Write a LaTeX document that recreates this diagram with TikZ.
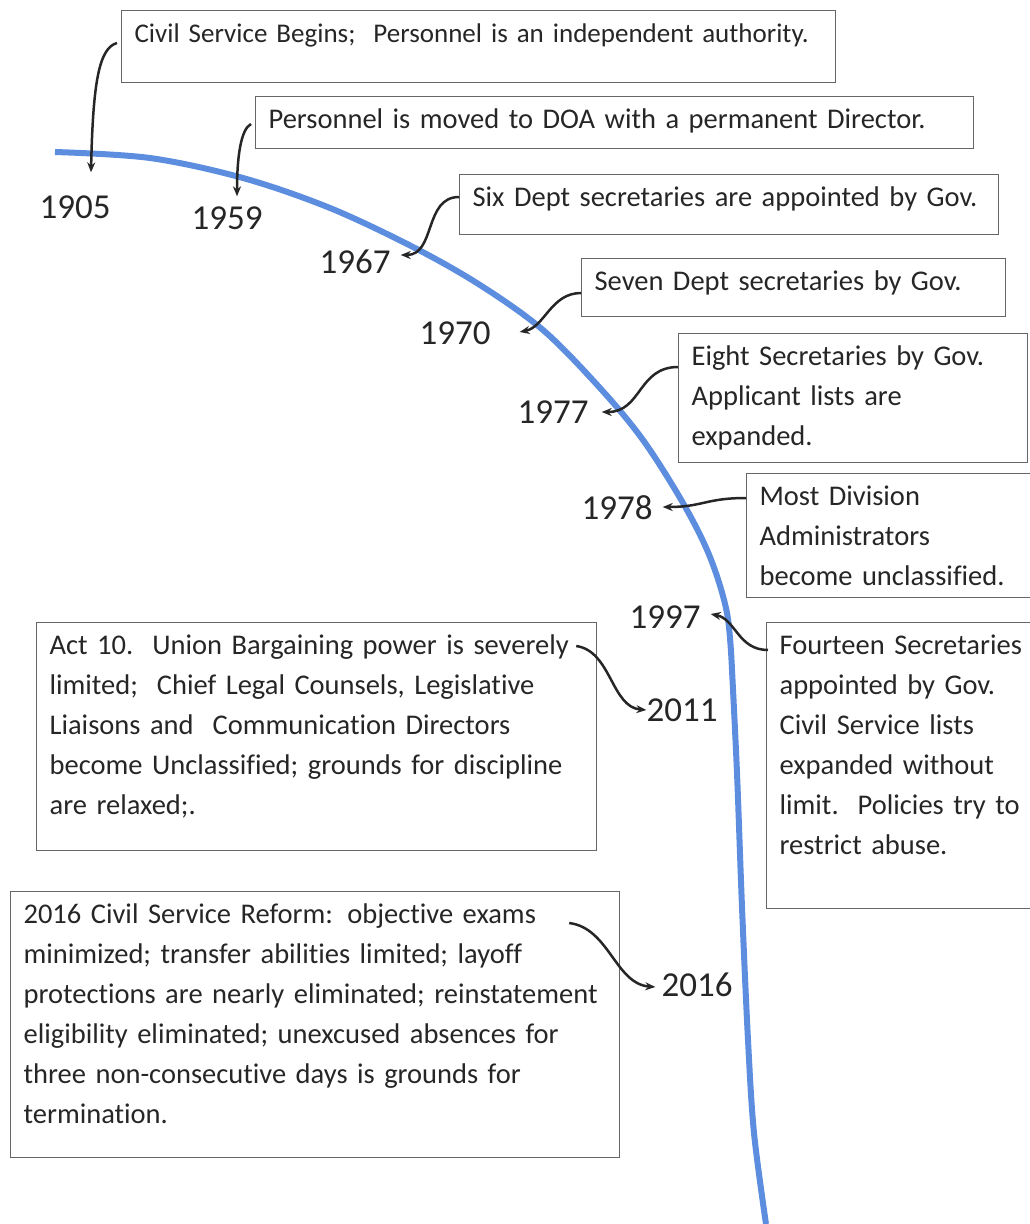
\documentclass[tikz,border=0pt]{standalone}
\usepackage{fontspec}
\setmainfont{Carlito}[Ligatures=NoCommon]
\usetikzlibrary{arrows.meta}
\definecolor{flowblue}{RGB}{92,141,222}
\definecolor{inkgray}{RGB}{38,38,38}
\tikzset{
  event/.style={draw=black!60, line width=1.2pt, anchor=north west, align=left,
    inner xsep=13pt, inner ysep=4pt, text=inkgray,
    font=\fontsize{28.5}{40}\selectfont},
  year/.style={inner sep=2pt, text=inkgray, font=\fontsize{35}{42}\selectfont},
  pointer/.style={-{Stealth[length=10pt,width=8pt]}, line width=2.5pt, black!85}
}
\begin{document}
\begin{tikzpicture}[x=1pt,y=-1pt]
  \useasboundingbox (0,0) rectangle (1029,1224);

  % Time line
  \draw[flowblue, line width=6pt, line join=round]
    plot[smooth, tension=0.55] coordinates {
      (55,152) (150,158) (243,178) (330,208) (413,247) (480,285) (543,330)
      (600,388) (643,440) (683,503) (710,557) (727,613) (732,670)}
    -- plot[smooth, tension=0.55] coordinates {
      (732,670) (737,773) (742,907) (748,1040) (754,1133) (766,1224)};

  % Event boxes
  \node[event, text width=688pt, text depth=36pt, font=\fontsize{27}{40}\selectfont] (b1905) at (121,10)
    {\strut Civil Service Begins;\ \ Personnel is an independent authority.};
  \node[event, text width=692pt, text depth=16pt] (b1959) at (255,96)
    {\strut Personnel is moved to DOA with a permanent Director.};
  \node[event, text width=513pt, text depth=24pt] (b1967) at (459,174)
    {\strut Six Dept secretaries are appointed by Gov.};
  \node[event, text width=398pt, text depth=22pt] (b1970) at (581,258)
    {\strut Seven Dept secretaries by Gov.};
  \node[event, text width=323pt, text depth=93pt] (b1977) at (678,333)
    {\strut Eight Secretaries by Gov.\\ Applicant lists are\\ expanded.};
  \node[event, text width=264pt, text depth=88pt] (b1978) at (746,473)
    {\strut Most Division\\ Administrators\\ become unclassified.};
  \node[event, text width=248pt, text depth=250pt] (b1997) at (766,622)
    {\strut Fourteen Secretaries\\ appointed by Gov.\\ Civil Service lists\\
     expanded without\\ limit.\ \ Policies try to\\ restrict abuse.};
  \node[event, text width=534pt, text depth=192pt] (b2011) at (36,622)
    {\strut Act 10.\ \ Union Bargaining power is severely\\
     limited;\ \ Chief Legal Counsels, Legislative\\
     Liaisons and\ \ Communication Directors\\
     become Unclassified; grounds for discipline\\ are relaxed;.};
  \node[event, text width=583pt, text depth=230pt] (b2016) at (10,891)
    {\strut 2016 Civil Service Reform: objective exams\\
     minimized; transfer abilities limited; layoff\\
     protections are nearly eliminated; reinstatement\\
     eligibility eliminated; unexcused absences for\\
     three non-consecutive days is grounds for\\ termination.};

  % Years
  \node[year] (y1905) at (75,207) {1905};
  \node[year] (y1959) at (227,218) {1959};
  \node[year] (y1967) at (355,262) {1967};
  \node[year] (y1970) at (455,333) {1970};
  \node[year] (y1977) at (553,412) {1977};
  \node[year] (y1978) at (617,508) {1978};
  \node[year] (y1997) at (665,617) {1997};
  \node[year] (y2011) at (682,710) {2011};
  \node[year] (y2016) at (697,985) {2016};

  % Pointers
  \draw[pointer] ([xshift=-4pt,yshift=-33pt]b1905.north west)
    .. controls +(-18,5) and +(2,-90) .. ([xshift=16pt,yshift=21pt]y1905.north);
  \draw[pointer] ([xshift=-4pt,yshift=-28pt]b1959.north west)
    .. controls +(-10,5) and +(0,-40) .. ([xshift=10pt,yshift=8pt]y1959.north);
  \draw[pointer] ([yshift=-23pt]b1967.north west)
    .. controls +(-35,0) and +(35,0) .. ([xshift=8pt,yshift=7pt]y1967.east);
  \draw[pointer] ([yshift=-35pt]b1970.north west)
    .. controls +(-30,0) and +(25,-5) .. ([xshift=27pt,yshift=1pt]y1970.east);
  \draw[pointer] ([yshift=-34pt]b1977.north west)
    .. controls +(-40,0) and +(40,0) .. ([xshift=11pt]y1977.east);
  \draw[pointer] ([yshift=-25pt]b1978.north west)
    .. controls +(-40,0) and +(40,0) .. ([xshift=8pt,yshift=1pt]y1978.east);
  \draw[pointer] ([xshift=2pt,yshift=-28pt]b1997.north west)
    .. controls +(-30,0) and +(25,5) .. ([xshift=8pt,yshift=3pt]y1997.east);
  \draw[pointer] ([xshift=-21pt,yshift=-24pt]b2011.north east)
    .. controls +(35,5) and +(-35,-3) .. ([xshift=2pt]y2011.west);
  \draw[pointer] ([xshift=-51pt,yshift=-32pt]b2016.north east)
    .. controls +(40,5) and +(-40,-3) .. ([xshift=-4pt,yshift=-2pt]y2016.west);
\end{tikzpicture}
\end{document}
